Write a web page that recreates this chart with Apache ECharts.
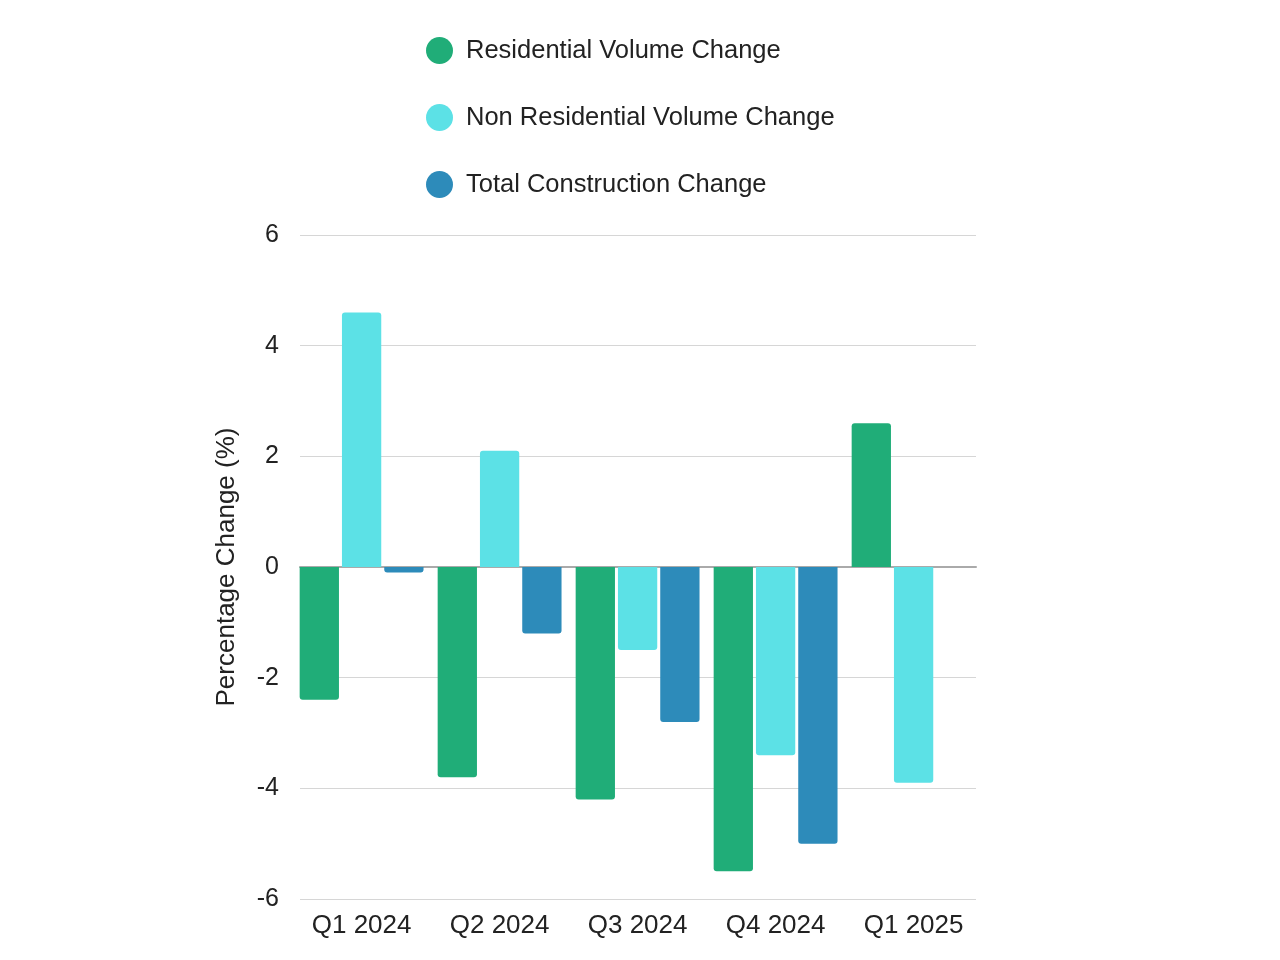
<!DOCTYPE html>
<html>
<head>
<meta charset="utf-8">
<script src="https://cdn.jsdelivr.net/npm/echarts@6/dist/echarts.min.js"></script>
<style>
html,body{margin:0;padding:0;background:#fff;}
#chart{width:1280px;height:960px;}
</style>
</head>
<body>
<div id="chart"></div>
<script>
const categories = ['Q1 2024', 'Q2 2024', 'Q3 2024', 'Q4 2024', 'Q1 2025'];
const residential = [-2.4, -3.8, -4.2, -5.5, 2.6];
const nonResidential = [4.6, 2.1, -1.5, -3.4, -3.9];
const totalConstruction = [-0.1, -1.2, -2.8, -5.0, null];
const seriesNames = ['Residential Volume Change', 'Non Residential Volume Change', 'Total Construction Change'];
const yTicks = [-6, -4, -2, 0, 2, 4, 6];

const colors = ['#20AD78', '#5CE1E6', '#2D8BBA'];
const FONT = '"Liberation Sans", Arial, sans-serif';

function toItems(arr) {
  return arr.map(v => v === null ? null : {
    value: v,
    itemStyle: { borderRadius: v >= 0 ? [3, 3, 0, 0] : [0, 0, 3, 3] }
  });
}

const chart = echarts.init(document.getElementById('chart'));
const yMin = yTicks[0], yMax = yTicks[yTicks.length - 1];

chart.setOption({
  animation: false,
  color: colors,
  textStyle: { fontFamily: FONT },
  legend: {
    orient: 'vertical',
    left: 421,
    top: 32,
    icon: 'circle',
    itemWidth: 43,
    itemHeight: 27,
    itemGap: 40,
    data: seriesNames,
    textStyle: { fontSize: 25.5, color: '#222', fontFamily: FONT }
  },
  grid: [
    { left: 300, right: 304, top: 235, bottom: 61, containLabel: false },
    { left: 292.6, width: 690, top: 235, bottom: 61, containLabel: false }
  ],
  xAxis: [
    {
      gridIndex: 0, type: 'category', data: categories,
      axisLine: { show: true, onZero: true, lineStyle: { color: '#aaaaaa', width: 2 } },
      axisTick: { show: false }, axisLabel: { show: false }, splitLine: { show: false }
    },
    {
      gridIndex: 1, type: 'category', data: categories,
      axisLine: { show: false }, axisTick: { show: false },
      axisLabel: { show: true, fontSize: 26, color: '#222', margin: 14, fontFamily: FONT },
      splitLine: { show: false }
    }
  ],
  yAxis: [
    {
      gridIndex: 0, type: 'value', min: yMin, max: yMax, interval: 2,
      name: 'Percentage Change (%)', nameLocation: 'middle', nameGap: 60,
      nameTextStyle: { fontSize: 26, color: '#222', fontFamily: FONT },
      axisLine: { show: false }, axisTick: { show: false },
      axisLabel: { fontSize: 25, color: '#222', margin: 21, fontFamily: FONT, padding: [4, 0, 0, 0] },
      splitLine: { show: true, lineStyle: { color: '#d6d6d6', width: 1 } }
    },
    {
      gridIndex: 1, type: 'value', min: yMin, max: yMax, interval: 2, show: false,
      splitLine: { show: false }
    }
  ],
  series: [
    { name: seriesNames[0], type: 'bar', xAxisIndex: 1, yAxisIndex: 1, data: toItems(residential), barWidth: 39.3, barGap: '7.6%' },
    { name: seriesNames[1], type: 'bar', xAxisIndex: 1, yAxisIndex: 1, data: toItems(nonResidential), barWidth: 39.3, barGap: '7.6%' },
    { name: seriesNames[2], type: 'bar', xAxisIndex: 1, yAxisIndex: 1, data: toItems(totalConstruction), barWidth: 39.3, barGap: '7.6%' }
  ]
});
</script>
</body>
</html>
